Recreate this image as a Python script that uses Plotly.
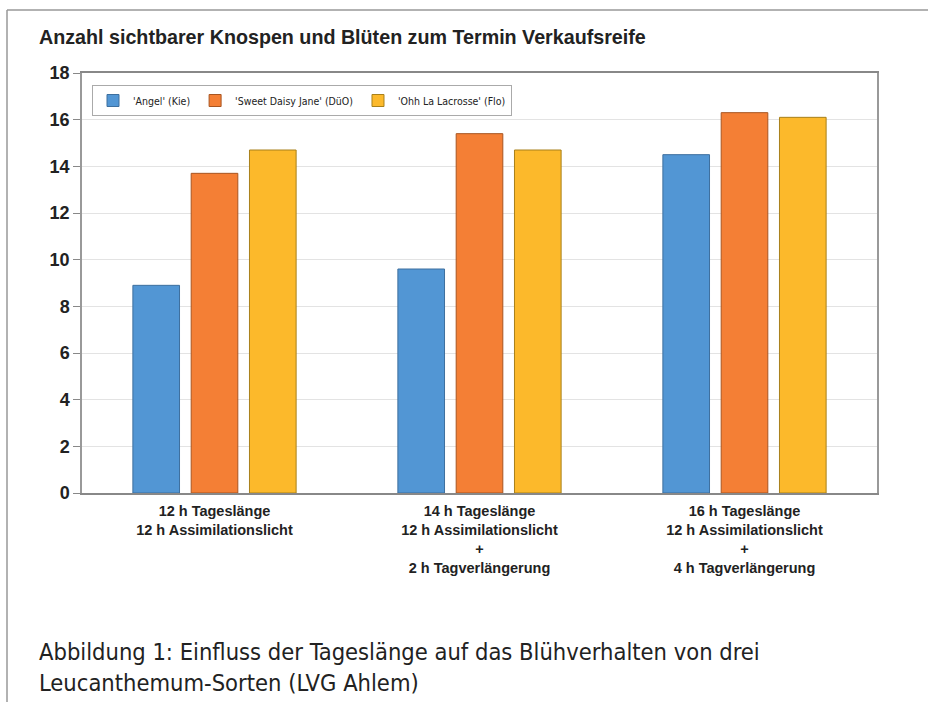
import plotly.graph_objects as go

categories = [
    "12 h Tageslänge<br>12 h Assimilationslicht",
    "14 h Tageslänge<br>12 h Assimilationslicht<br>+<br>2 h Tagverlängerung",
    "16 h Tageslänge<br>12 h Assimilationslicht<br>+<br>4 h Tagverlängerung",
]
angel = [8.9, 9.6, 14.5]
daisy = [13.7, 15.4, 16.3]
lacrosse = [14.7, 14.7, 16.1]
series_names = ["'Angel' (Kie)", "'Sweet Daisy Jane' (DüO)", "'Ohh La Lacrosse' (Flo)"]
y_ticks = [0, 2, 4, 6, 8, 10, 12, 14, 16, 18]

W, H = 928, 702
L, R, T, B = 82, 51, 73, 209


def px_to_paper(px, py):
    # convert page pixels to paper coordinates of the plot area
    pw = W - L - R
    ph = H - T - B
    return (px - L) / pw, (H - B - py) / ph


fig = go.Figure()
colors = ["#5296D4", "#F47F35", "#FCB92B"]
outlines = ["#3d6f9e", "#a85521", "#a8801a"]
for name, vals, c, oc in zip(series_names, [angel, daisy, lacrosse], colors, outlines):
    fig.add_trace(go.Bar(
        x=categories, y=vals, name=name,
        marker=dict(color=c, line=dict(color=oc, width=1)),
    ))

# outer frame of the figure box (left and top edge)
x0, y0 = px_to_paper(7, 10)
x1, y1 = px_to_paper(W, H)
fig.add_shape(type="line", xref="paper", yref="paper", x0=x0, y0=y0, x1=x1, y1=y0,
              line=dict(color="#999999", width=1.5))
fig.add_shape(type="line", xref="paper", yref="paper", x0=x0, y0=y0, x1=x0, y1=y1,
              line=dict(color="#999999", width=1.5))

tx, ty = px_to_paper(37, 37)
fig.add_annotation(
    xref="paper", yref="paper", x=tx, y=ty, xanchor="left", yanchor="middle",
    text="<b>Anzahl sichtbarer Knospen und Blüten zum Termin Verkaufsreife</b>",
    showarrow=False, font=dict(family="Arial, Liberation Sans", size=19.7, color="#222222"),
)
cx, cy = px_to_paper(37, 667)
fig.add_annotation(
    xref="paper", yref="paper", x=cx, y=cy, xanchor="left", yanchor="middle", align="left",
    text="Abbildung 1: Einfluss der Tageslänge auf das Blühverhalten von drei<br>"
         "Leucanthemum-Sorten (LVG Ahlem)",
    showarrow=False,
    font=dict(family="DejaVu Sans Condensed, Liberation Sans Narrow, Arial Narrow", size=23.5,
              color="#222222"),
)

lx, ly = px_to_paper(92, 85)
fig.update_layout(
    width=W, height=H,
    margin=dict(l=L, r=R, t=T, b=B),
    paper_bgcolor="white", plot_bgcolor="white",
    barmode="group", bargap=0.34, bargroupgap=0.2,
    showlegend=True,
    legend=dict(
        orientation="h", x=lx, y=ly, xanchor="left", yanchor="top",
        bordercolor="#aaaaaa", borderwidth=1, bgcolor="white",
        font=dict(family="DejaVu Sans Condensed, Arial", size=10.5, color="#222222"),
        itemwidth=30, traceorder="normal",
    ),
    xaxis=dict(
        showline=True, linecolor="#888888", linewidth=1.5, mirror=True,
        tickfont=dict(family="Arial, Liberation Sans", size=14.5, color="#222222",
                      weight="bold"),
        ticks="", showgrid=False, ticklabelstandoff=4,
    ),
    yaxis=dict(
        range=[0, 18], tickvals=y_ticks, showline=True, linecolor="#999999", linewidth=1.5,
        mirror=True, ticks="outside", ticklen=7, tickcolor="#888888",
        gridcolor="#e3e3e3", gridwidth=1, zeroline=False,
        tickfont=dict(family="Arial, Liberation Sans", size=18, color="#222222",
                      weight="bold"),
    ),
)

fig.write_html("out.html", config={"displayModeBar": False},
               post_script="document.body.style.margin='0';")
